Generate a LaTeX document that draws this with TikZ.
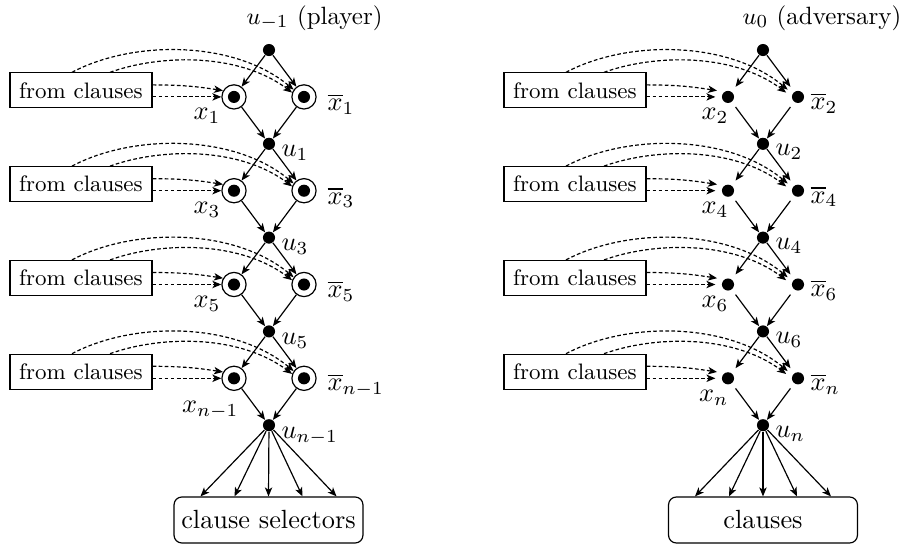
\documentclass[tikz,border=0pt]{standalone}
\usetikzlibrary{arrows.meta,calc}
\tikzset{
  dot/.style={circle,fill=black,inner sep=0pt,minimum size=4.6pt},
  ring/.style={circle,inner sep=0pt,minimum size=9.2pt},
  ringd/.style={ring,draw,line width=0.45pt},
  arr/.style={-{Stealth[length=3.4pt,width=2.8pt,inset=0.9pt]},line width=0.45pt},
  dsh/.style={arr,dash pattern=on 1.4pt off 0.9pt},
  fcbox/.style={draw,line width=0.45pt,rectangle,minimum width=54pt,minimum height=13.3pt,inner sep=0pt,font=\fontsize{8.5}{10}\selectfont},
  outbox/.style={draw,line width=0.45pt,rounded corners=3pt,minimum width=71.8pt,minimum height=17.5pt,inner sep=0pt},
  lab/.style={inner sep=0pt},
  toplab/.style={inner sep=0pt,anchor=base west,font=\fontsize{9.5}{11}\selectfont},
}
\begin{document}
\begin{tikzpicture}[x=0.38pt,y=-0.38pt]
\useasboundingbox (0,0) rectangle (908,545);
% ---------------- left column (player) ----------------
\node[dot] (Lu0) at (269,50) {};
\node[toplab] (Ltop) at (246,24) {$u_{-1}$ (player)};
\foreach \s/\ox/\oy [count=\i] in {1/-13/11, 3/-13/11, 5/-13/11, n-1/5/22} {
  \pgfmathsetmacro\yx{50+46.9*(2*\i-1)}
  \pgfmathsetmacro\yu{50+46.9*2*\i}
  \pgfmathsetmacro\yb{\yx-6.5}
  \pgfmathtruncatemacro\j{\i-1}
  \node[ringd] (Lx\i) at (234,\yx) {};
  \node[dot] (Ldx\i) at (Lx\i) {};
  \node[ringd] (Lxb\i) at (304,\yx) {};
  \node[dot] (Ldxb\i) at (Lxb\i) {};
  \node[dot] (Lu\i) at (269,\yu) {};
  \node[lab,anchor=north east] (Llx\i) at ($(Lx\i)+(\ox,\oy)$) {$x_{\s}$};
  \node[lab,anchor=west] (Llxb\i) at ($(Lxb\i)+(23,7)$) {$\overline{x}_{\s}$};
  \node[lab,anchor=north west] (Llu\i) at ($(Lu\i)+(12,1)$) {$u_{\s}$};
  \node[fcbox] (Lfc\i) at (81,\yb) {from clauses};
  \draw[arr] (Lu\j) -- (Lx\i);
  \draw[arr] (Lu\j) -- (Lxb\i);
  \draw[arr] (Lx\i) -- (Lu\i);
  \draw[arr] (Lxb\i) -- (Lu\i);
  \draw[dsh] ($(Lfc\i.east)+(0,-5.5)$) .. controls +(35,0) and +(-20,-3) .. (Lx\i.150);
  \draw[dsh] ($(Lfc\i.east)+(0,6.5)$) -- (Lx\i.180);
  \draw[dsh] ($(Lfc\i.north)+(-9,0)$) .. controls +(60,-32) and +(-60,-50) .. (Lxb\i.145);
  \draw[dsh] ($(Lfc\i.north)+(29,0)$) .. controls +(50,-18) and +(-53,-40) .. (Lxb\i.160);
}
\node[outbox] (Lbox) at (268.5,520) {clause selectors};
\foreach \d [count=\k] in {-68,-34,0,34,68} {
  \coordinate (Lt\k) at ($(Lbox.north)+(\d,0)$);
  \draw[arr] (Lu4) -- (Lt\k);
}
% ---------------- right column (adversary) ----------------
\node[dot] (Ru0) at (763,50) {};
\node[toplab] (Rtop) at (742,24) {$u_{0}$ (adversary)};
\foreach \s [count=\i] in {2,4,6,n} {
  \pgfmathsetmacro\yx{50+46.9*(2*\i-1)}
  \pgfmathsetmacro\yu{50+46.9*2*\i}
  \pgfmathsetmacro\yb{\yx-6.5}
  \pgfmathtruncatemacro\j{\i-1}
  \node[ring] (Rx\i) at (728,\yx) {};
  \node[dot] (Rdx\i) at (Rx\i) {};
  \node[ring] (Rxb\i) at (798,\yx) {};
  \node[dot] (Rdxb\i) at (Rxb\i) {};
  \node[dot] (Ru\i) at (763,\yu) {};
  \node[lab,anchor=north east] (Rlx\i) at ($(Rx\i)+(1,11)$) {$x_{\s}$};
  \node[lab,anchor=west] (Rlxb\i) at ($(Rxb\i)+(12,6)$) {$\overline{x}_{\s}$};
  \node[lab,anchor=north west] (Rlu\i) at ($(Ru\i)+(12,0)$) {$u_{\s}$};
  \node[fcbox] (Rfc\i) at (575,\yb) {from clauses};
  \draw[arr] (Ru\j) -- (Rx\i);
  \draw[arr] (Ru\j) -- (Rxb\i);
  \draw[arr] (Rx\i) -- (Ru\i);
  \draw[arr] (Rxb\i) -- (Ru\i);
  \draw[dsh] ($(Rfc\i.east)+(0,-5.5)$) .. controls +(35,0) and +(-20,-3) .. (Rx\i.150);
  \draw[dsh] ($(Rfc\i.east)+(0,6.5)$) -- (Rx\i.180);
  \draw[dsh] ($(Rfc\i.north)+(-9,0)$) .. controls +(60,-32) and +(-60,-50) .. (Rxb\i.145);
  \draw[dsh] ($(Rfc\i.north)+(29,0)$) .. controls +(50,-18) and +(-53,-40) .. (Rxb\i.160);
}
\node[outbox] (Rbox) at (763,520) {clauses};
\foreach \d [count=\k] in {-68,-34,0,34,68} {
  \coordinate (Rt\k) at ($(Rbox.north)+(\d,0)$);
  \draw[arr] (Ru4) -- (Rt\k);
}
\end{tikzpicture}
\end{document}
